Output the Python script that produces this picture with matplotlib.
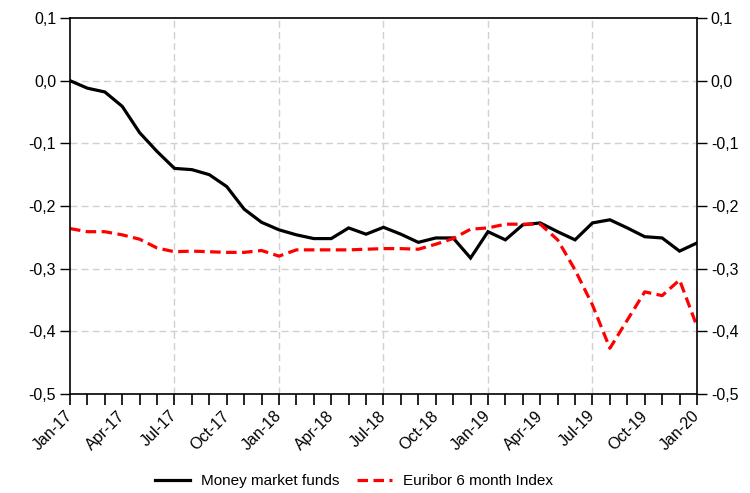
import numpy as np
import pandas as pd
import matplotlib
matplotlib.use("Agg")
import matplotlib.pyplot as plt
from matplotlib.ticker import FixedLocator, FuncFormatter

plt.rcParams['font.family'] = ['Liberation Sans', 'DejaVu Sans']

# monthly observations Jan-17 .. Jan-20
months = pd.date_range("2017-01-01", "2020-01-01", freq="MS")

money_market = [0.0, -0.012, -0.018, -0.041, -0.083, -0.113, -0.140, -0.142,
                -0.150, -0.169, -0.205, -0.226, -0.238, -0.246, -0.252, -0.252,
                -0.235, -0.245, -0.234, -0.245, -0.258, -0.251, -0.251, -0.283,
                -0.241, -0.254, -0.230, -0.227, -0.241, -0.254, -0.227, -0.222,
                -0.235, -0.249, -0.251, -0.272, -0.259]

euribor_6m = [-0.236, -0.241, -0.241, -0.246, -0.253, -0.267, -0.273, -0.272,
              -0.273, -0.274, -0.274, -0.271, -0.280, -0.270, -0.270, -0.270,
              -0.270, -0.269, -0.268, -0.268, -0.269, -0.261, -0.252, -0.237,
              -0.235, -0.229, -0.229, -0.229, -0.254, -0.302, -0.358, -0.427,
              -0.382, -0.337, -0.343, -0.318, -0.392]

y_ticks = [0.1, 0.0, -0.1, -0.2, -0.3, -0.4, -0.5]

x = np.arange(len(months))
labels = [d.strftime("%b-%y") for d in months]

fig = plt.figure(figsize=(7.5, 4.93), dpi=100)
ax = fig.add_axes([0.0933, 0.2008, 0.836, 0.7627])

ax.plot(x, money_market, color='black', lw=2.3, label='Money market funds',
        solid_joinstyle='miter')
ax.plot(x, euribor_6m, color='#ff0000', lw=2.3, linestyle=(0, (3.3, 1.7)),
        label='Euribor 6 month Index')

ax.set_xlim(x[0], x[-1])
ax.set_ylim(-0.5, 0.1)

# y axis on both sides
ax.set_yticks(y_ticks)
fmt = FuncFormatter(lambda v, p: f"{v:.1f}".replace('.', ',').replace('-0,0', '0,0'))
ax.yaxis.set_major_formatter(fmt)
ax.tick_params(axis='y', which='both', direction='out', length=7, width=1,
               left=True, right=True, labelleft=True, labelright=True,
               labelsize=11.5, pad=3)

# x axis: tick every month, label every quarter
ax.set_xticks(x[::3])
ax.set_xticklabels(labels[::3], rotation=45, ha='right', va='center',
                   rotation_mode='anchor', fontsize=11.5)
ax.xaxis.set_minor_locator(FixedLocator(x))
ax.tick_params(axis='x', which='both', direction='out', length=8, width=1.2, pad=6)

# grid: horizontal at y ticks, vertical every six months
for v in y_ticks[1:-1]:
    ax.axhline(v, color='#d0d0d0', lw=1, ls=(0, (5, 3)), zorder=0)
for xi in x[6:-1:6]:
    ax.axvline(xi, color='#d0d0d0', lw=1, ls=(0, (5, 3)), zorder=0)

for s in ax.spines.values():
    s.set_color('black')
    s.set_linewidth(1.2)

ax.legend(loc='center', bbox_to_anchor=(0.453, -0.231), ncol=2,
          frameon=False, fontsize=11, handlelength=2.3, columnspacing=1.2,
          handletextpad=0.7)

fig.savefig("out.png", dpi=100)
